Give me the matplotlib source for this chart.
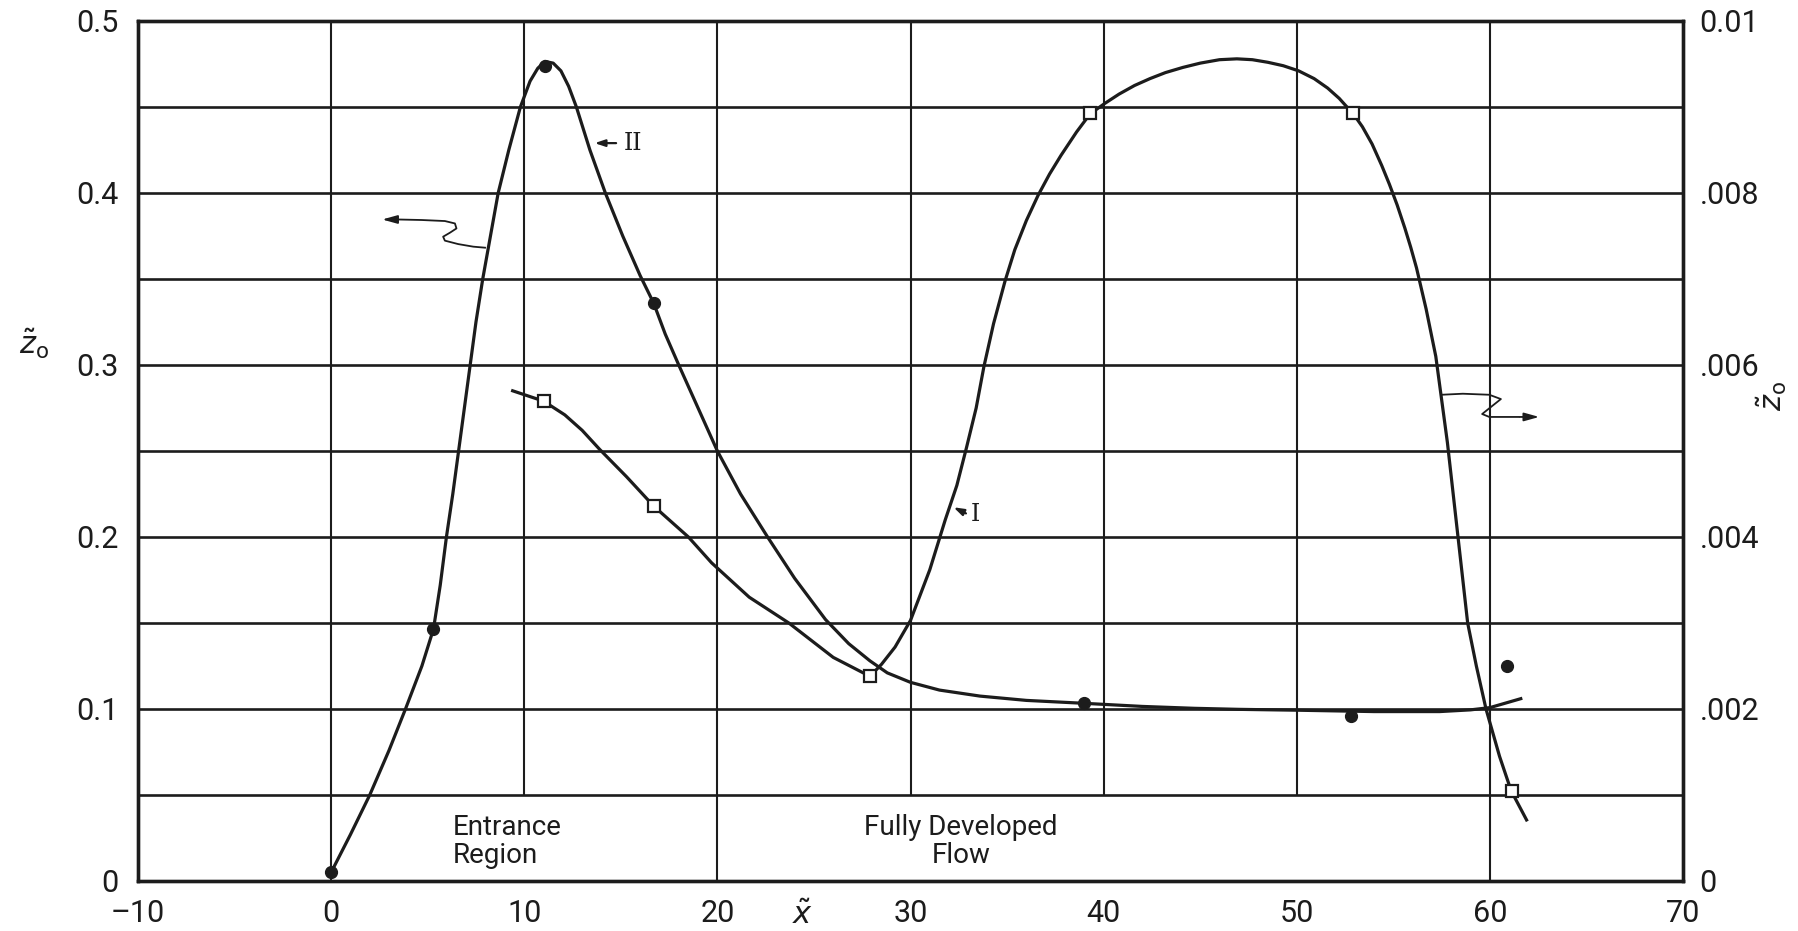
import numpy as np
import matplotlib
matplotlib.use("Agg")
import matplotlib.pyplot as plt

plt.rcParams['font.family'] = ['Roboto', 'DejaVu Sans']
plt.rcParams['mathtext.fontset'] = 'dejavusans'

INK = '#1c1c1c'

# curve II (filled circles)
x_ii = [0, 1.0, 2.0, 3.0, 3.85, 4.7, 5.3, 5.65, 5.97, 6.3, 6.6, 6.9, 7.2, 7.5,
        7.85, 8.25, 8.65, 9.2, 9.8, 10.3, 10.7, 11.07, 11.5, 11.9, 12.3, 12.7,
        13.4, 14.2, 15.1, 16.0, 16.7, 17.3, 18.0, 19.0, 20.0, 21.2, 22.6, 24.0,
        25.6, 26.8, 27.9, 28.8, 30.0, 31.5, 33.6, 36.0, 39.0, 42.0, 44.7, 47.0,
        50.0, 54.0, 57.4, 59.0, 60.0, 61.6]
y_ii = [0.005, 0.027, 0.05, 0.076, 0.1, 0.125, 0.1465, 0.172, 0.2, 0.225, 0.25,
        0.275, 0.3, 0.325, 0.35, 0.375, 0.4, 0.425, 0.45, 0.465, 0.4725, 0.4765,
        0.4755, 0.471, 0.462, 0.45, 0.425, 0.4, 0.375, 0.352, 0.336, 0.318, 0.3,
        0.275, 0.25, 0.225, 0.2, 0.176, 0.152, 0.138, 0.128, 0.121, 0.1155,
        0.111, 0.1075, 0.105, 0.1033, 0.1015, 0.1004, 0.0998, 0.0993, 0.0985,
        0.0985, 0.0995, 0.1008, 0.106]
dots_x = [0, 5.3, 11.07, 16.7, 39.0, 52.8, 60.9]
dots_y = [0.005, 0.1465, 0.474, 0.336, 0.1033, 0.0958, 0.125]

# curve I (open squares)
x_i = [9.4, 11.0, 12.1, 13.0, 13.9, 15.3, 16.7, 18.5, 19.7, 21.65, 23.7, 26.0,
       27.9, 28.5, 29.2, 30.0, 31.0, 31.8, 32.4, 32.9, 33.4, 33.8, 34.3, 34.9,
       35.4, 36.0, 36.6, 37.2, 37.8, 38.6, 39.3, 40.05, 40.8, 41.6, 42.4, 43.2,
       44.1, 45.0, 46.0, 46.9, 47.7, 48.5, 49.3, 50.1, 50.9, 51.6, 52.2, 52.6,
       52.9, 53.4, 53.9, 54.4, 54.8, 55.2, 55.6, 55.9, 56.2, 56.7, 57.2, 57.5,
       57.8, 58.05, 58.3, 58.55, 58.85, 59.3, 59.8, 60.5, 61.1, 61.9]
y_i = [0.0057, 0.00558, 0.00542, 0.00524, 0.00502, 0.0047, 0.00436, 0.004,
       0.0037, 0.0033, 0.003, 0.0026, 0.00238, 0.00252, 0.00272, 0.00303,
       0.00362, 0.0042, 0.0046, 0.00504, 0.0055, 0.00598, 0.00648, 0.00698,
       0.00734, 0.00768, 0.00797, 0.00822, 0.00844, 0.00871, 0.00892, 0.00904,
       0.00915, 0.00925, 0.00933, 0.0094, 0.00946, 0.00951, 0.00955, 0.00956,
       0.00955, 0.00952, 0.00948, 0.00942, 0.00933, 0.00922, 0.0091, 0.009,
       0.00893, 0.00877, 0.00857, 0.00832, 0.0081, 0.00786, 0.00759, 0.00737,
       0.00713, 0.00665, 0.0061, 0.0056, 0.0051, 0.0046, 0.0041, 0.0036,
       0.003, 0.0025, 0.002, 0.00145, 0.00105, 0.00071]
sq_x = [11.0, 16.7, 27.9, 39.3, 52.9, 61.15]
sq_y = [0.00558, 0.00436, 0.00238, 0.00893, 0.00893, 0.00105]

x_ticks = [-10, 0, 10, 20, 30, 40, 50, 60, 70]
x_labels = ['\u201310', '0', '10', '20', '30', '40', '50', '60', '70']
left_ticks = [0, 0.1, 0.2, 0.3, 0.4, 0.5]
left_labels = ['0', '0.1', '0.2', '0.3', '0.4', '0.5']
right_ticks = [0, 0.002, 0.004, 0.006, 0.008, 0.01]
right_labels = ['0', '.002', '.004', '.006', '.008', '0.01']

fig = plt.figure(figsize=(17.99, 9.31), dpi=100)
ax = fig.add_axes([138 / 1799, 50 / 931, 1545 / 1799, 860 / 931])
ax.set_xlim(-10, 70)
ax.set_ylim(0, 0.5)

# grid: full-width horizontals, verticals broken in the bottom band
ax.hlines(np.arange(0.05, 0.5, 0.05), -10, 70, color=INK, lw=1.9, zorder=1)
ax.vlines([10, 30, 40, 50], 0.05, 0.5, color=INK, lw=1.5, zorder=1)
ax.vlines([0, 20, 60], 0, 0.5, color=INK, lw=1.5, zorder=1)

ax.plot(x_ii, y_ii, color=INK, lw=2.3, zorder=3, solid_joinstyle='round')
ax.plot(dots_x, dots_y, 'o', ms=8.5, color=INK, zorder=4)

ax.set_xticks(x_ticks)
ax.set_xticklabels(x_labels)
ax.set_yticks(left_ticks)
ax.set_yticklabels(left_labels)
ax.tick_params(length=0, labelsize=22, colors=INK)
ax.tick_params(axis='y', pad=14)
ax.tick_params(axis='x', pad=13)
for s in ax.spines.values():
    s.set_linewidth(2.4)
    s.set_color(INK)

ax2 = ax.twinx()
ax2.set_ylim(0, 0.01)
ax2.plot(x_i, y_i, color=INK, lw=2.3, zorder=3, solid_joinstyle='round')
ax2.plot(sq_x, sq_y, 's', ms=9, mfc='white', mec=INK, mew=1.6, zorder=4)
ax2.set_yticks(right_ticks)
ax2.set_yticklabels(right_labels)
ax2.tick_params(length=0, labelsize=22, colors=INK, pad=12)
for s in ax2.spines.values():
    s.set_linewidth(2.4)
    s.set_color(INK)

# squiggly pointers to the axes
lx = [7.97, 7.36, 6.58, 5.89, 5.8, 6.15, 6.49, 6.41, 5.89, 4.68, 3.46]
ly = [0.3682, 0.3688, 0.3703, 0.3723, 0.3746, 0.3769, 0.3794, 0.3823, 0.3837,
      0.3843, 0.3846]
ax.plot(lx, ly, color=INK, lw=1.3, zorder=3, solid_joinstyle='round')
ax.annotate('', xy=(2.5, 0.3846), xytext=(3.5, 0.3846),
            arrowprops=dict(arrowstyle='-|>,head_length=0.9,head_width=0.25',
                            color=INK, lw=1.3))
rx = [57.5, 58.6, 59.97, 60.57, 60.1, 59.6, 59.97, 61.5]
ry = [0.2827, 0.2833, 0.2827, 0.2802, 0.276, 0.2715, 0.2698, 0.2698]
ax.plot(rx, ry, color=INK, lw=1.3, zorder=3, solid_joinstyle='round')
ax.annotate('', xy=(62.7, 0.2698), xytext=(61.4, 0.2698),
            arrowprops=dict(arrowstyle='-|>,head_length=0.9,head_width=0.25',
                            color=INK, lw=1.3))

# curve labels
ax.annotate('', xy=(13.5, 0.429), xytext=(14.9, 0.429),
            arrowprops=dict(arrowstyle='-|>,head_length=0.6,head_width=0.2',
                            color=INK, lw=1.6))
ax.text(15.15, 0.429, 'II', family='DejaVu Serif', fontsize=17, va='center',
        ha='left', color=INK)
ax.annotate('', xy=(32.1, 0.218), xytext=(33.0, 0.213),
            arrowprops=dict(arrowstyle='-|>,head_length=0.6,head_width=0.2',
                            color=INK, lw=1.6))
ax.text(33.1, 0.213, 'I', family='DejaVu Serif', fontsize=17, va='center',
        ha='left', color=INK)

ax.text(6.3, 0.023, 'Entrance\nRegion', fontsize=20, ha='left', va='center',
        color=INK, linespacing=1.05)
ax.text(32.6, 0.023, 'Fully Developed\nFlow', fontsize=20, ha='center',
        va='center', color=INK, linespacing=1.05)

fig.text(34 / 1799, 1 - 344 / 931, r'$\tilde{z}_{\mathrm{o}}$', fontsize=22,
         ha='center', va='center', color=INK)
fig.text(1772 / 1799, 1 - 396 / 931, r'$\tilde{z}_{\mathrm{o}}$', fontsize=22,
         ha='center', va='center', color=INK, rotation=90)
fig.text(803 / 1799, 1 - 915 / 931, r'$\tilde{x}$', fontsize=22,
         ha='center', va='center', color=INK)

fig.savefig('out.png', dpi=100)
